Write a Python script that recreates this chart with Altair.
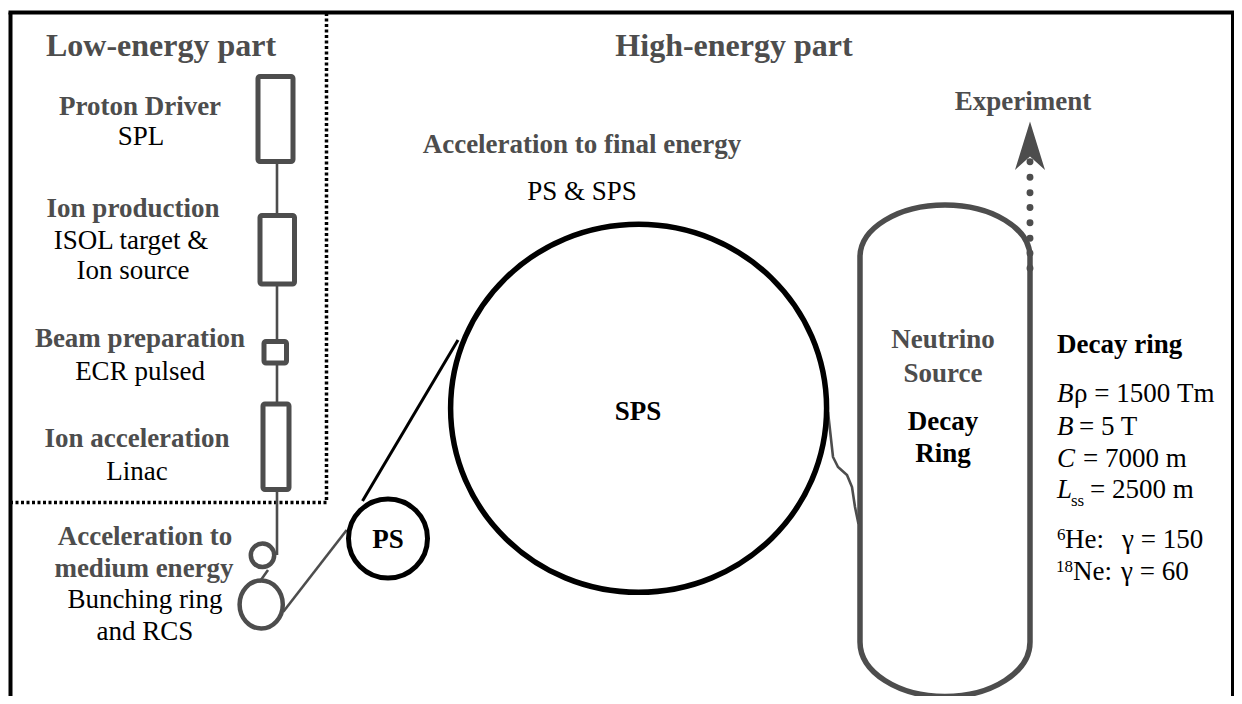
import altair as alt
import pandas as pd

FONT = "Liberation Serif"
GRAY = "#4d4d4d"
BLACK = "#000000"

# ---------------- text content ----------------
title_text = ["Low-energy part", "High-energy part"]
title_x = [161, 734]
title_y = [56, 56]

stage_text = ["Proton Driver", "Ion production", "Beam preparation", "Ion acceleration",
              "Acceleration to", "medium energy", "Acceleration to final energy",
              "Experiment", "Neutrino", "Source"]
stage_x = [140, 133, 140, 137, 145, 144, 582, 1023, 943, 943]
stage_y = [115, 217, 347, 447, 545, 577, 153, 110, 348, 382]

detail_text = ["SPL", "ISOL target &", "Ion source", "ECR pulsed", "Linac",
               "Bunching ring", "and RCS", "PS & SPS"]
detail_x = [141, 131, 133, 140, 137, 145, 145, 582]
detail_y = [145, 249, 279, 380, 480, 608, 640, 200]

ring_label_text = ["SPS", "PS", "Decay", "Ring"]
ring_label_x = [638, 388, 943, 943]
ring_label_y = [420, 548, 430, 462]

param_head_text = ["Decay ring"]
param_head_x = [1057]
param_head_y = [353]

param_italic_text = ["B", "B", "C", "L"]
param_italic_x = [1057, 1057, 1057, 1057]
param_italic_y = [402, 435, 467, 498]

param_text = ["ρ = 1500 Tm", "= 5 T", "= 7000 m", "= 2500 m", "He:", "Ne:", "γ = 150", "γ = 60"]
param_x = [1074, 1079, 1083, 1090, 1065, 1073, 1122, 1121]
param_y = [402, 435, 467, 498, 548, 580, 548, 580]

script_text = ["ss", "6", "18"]
script_x = [1071, 1057, 1056]
script_y = [506, 540, 572]

# ---------------- geometry ----------------
box_x1 = [258, 260, 264, 263]
box_x2 = [293, 294.5, 286.5, 289]
box_y1 = [76.5, 215.5, 341.5, 404]
box_y2 = [161.5, 284, 363, 489.5]

gray_id = ["beam", "beam", "link", "link", "to_ps", "to_ps",
           "to_ring", "to_ring", "to_ring", "to_ring", "to_ring", "to_ring", "to_ring", "to_ring"]
gray_x = [277, 277, 268, 259.5, 283.3, 346.7,
          828, 830, 833, 838, 847, 852, 855, 858.5]
gray_y = [162, 555, 570, 582, 611.7, 530,
          412, 430, 457, 467, 475, 487, 507, 524]

black_id = ["ps_sps", "ps_sps"]
black_x = [362.5, 458]
black_y = [501, 340]

frame_id = ["left", "left", "top", "top", "right", "right"]
frame_x = [10.5, 10.5, 8.5, 1234, 1233, 1233]
frame_y = [696, 12.5, 12.5, 12.5, 12.5, 696]

sep_x = [10, 326.5, 326.5]
sep_y = [502.5, 502.5, 14]

ps_xy = (388, 538.5)
sps_xy = (638.6, 408.3)
small_ring_xy = (262.5, 555.3)
rcs_xy = (261.2, 604.5)
decay_xy = (945, 450.75)

arrow_xy = (1030, 146)
dot_y = [161.7, 177.3, 192.7, 207.5, 222.7, 238.3, 253.3, 268.3]

# ---------------- chart ----------------
XS = alt.Scale(domain=[8, 1234], nice=False, zero=False)
YS = alt.Scale(domain=[8, 696], nice=False, zero=False, reverse=True)


def X(f="x"):
    return alt.X(f"{f}:Q", scale=XS, axis=None)


def Y(f="y"):
    return alt.Y(f"{f}:Q", scale=YS, axis=None)


def text_layer(texts, xs, ys, size, color, weight="normal", style="normal", align="center"):
    df = pd.DataFrame({"t": texts, "x": xs, "y": ys})
    return alt.Chart(df).mark_text(
        font=FONT, fontSize=size, fontWeight=weight, fontStyle=style,
        color=color, align=align, baseline="alphabetic"
    ).encode(x=X(), y=Y(), text="t:N")


def line_layer(ids, xs, ys, color, width, dash=None):
    df = pd.DataFrame({"id": ids, "x": xs, "y": ys, "o": list(range(len(xs)))})
    kw = dict(color=color, strokeWidth=width, strokeCap="butt")
    if dash is not None:
        kw["strokeDash"] = dash
    return alt.Chart(df).mark_line(**kw).encode(
        x=X(), y=Y(), detail="id:N", order="o:Q")


def shape_layer(xy, shape, size, color, width, filled=False):
    df = pd.DataFrame({"x": [xy[0]], "y": [xy[1]]})
    if filled:
        m = alt.Chart(df).mark_point(shape=shape, size=size, filled=True,
                                     fill=color, strokeWidth=0, opacity=1)
    else:
        m = alt.Chart(df).mark_point(shape=shape, size=size, filled=False,
                                     stroke=color, strokeWidth=width, opacity=1)
    return m.encode(x=X(), y=Y())


ellipse_sps = "M-1,0 A1,0.979 0 1 1 1,0 A1,0.979 0 1 1 -1,0 Z"
ellipse_rcs = "M-0.9,0 A0.9,1 0 1 1 0.9,0 A0.9,1 0 1 1 -0.9,0 Z"
racetrack = ("M-0.3459,-0.7884 A0.3459,0.2116 0 0 1 0.3459,-0.7884 "
             "L0.3459,0.7782 A0.3459,0.2218 0 0 1 -0.3459,0.7782 Z")
arrow_shape = "M0,-0.98 L0.6,0.96 L0,0.42 L-0.6,0.96 Z"

boxes = alt.Chart(pd.DataFrame({"x": box_x1, "x2": box_x2, "y": box_y1, "y2": box_y2})).mark_rect(
    fill="white", stroke=GRAY, strokeWidth=5, cornerRadius=2
).encode(x=X(), x2="x2:Q", y=Y(), y2="y2:Q")

dots = alt.Chart(pd.DataFrame({"x": [1030] * len(dot_y), "y": dot_y})).mark_circle(
    size=48, color=GRAY, opacity=1
).encode(x=X(), y=Y())

layers = [
    line_layer(["sep"] * 3, sep_x, sep_y, BLACK, 3.5, dash=[3, 2.5]),
    line_layer(frame_id, frame_x, frame_y, BLACK, 4),
    line_layer(gray_id, gray_x, gray_y, GRAY, 2.6),
    line_layer(black_id, black_x, black_y, BLACK, 3),
    boxes,
    shape_layer(small_ring_xy, "circle", 23.4 ** 2, GRAY, 4.5),
    shape_layer(rcs_xy, ellipse_rcs, 48 ** 2, GRAY, 4.5),
    shape_layer(ps_xy, "circle", 79 ** 2, BLACK, 5),
    shape_layer(sps_xy, ellipse_sps, 376 ** 2, BLACK, 5.5),
    shape_layer(decay_xy, racetrack, 491.5 ** 2, GRAY, 5.5),
    dots,
    shape_layer(arrow_xy, arrow_shape, 50 ** 2, GRAY, 0, filled=True),
    text_layer(title_text, title_x, title_y, 32, GRAY, weight="bold"),
    text_layer(stage_text, stage_x, stage_y, 27, GRAY, weight="bold"),
    text_layer(detail_text, detail_x, detail_y, 27, BLACK),
    text_layer(ring_label_text, ring_label_x, ring_label_y, 27, BLACK, weight="bold"),
    text_layer(param_head_text, param_head_x, param_head_y, 27, BLACK, weight="bold", align="left"),
    text_layer(param_italic_text, param_italic_x, param_italic_y, 27, BLACK, style="italic", align="left"),
    text_layer(param_text, param_x, param_y, 27, BLACK, align="left"),
    text_layer(script_text, script_x, script_y, 17, BLACK, align="left"),
]

chart = alt.layer(*layers).properties(
    width=1226, height=688, padding=0,
    autosize=alt.AutoSizeParams(type="none"),
    background="white",
).configure_view(stroke=None)

chart.save("out.html", embed_options={"renderer": "svg", "actions": False})
